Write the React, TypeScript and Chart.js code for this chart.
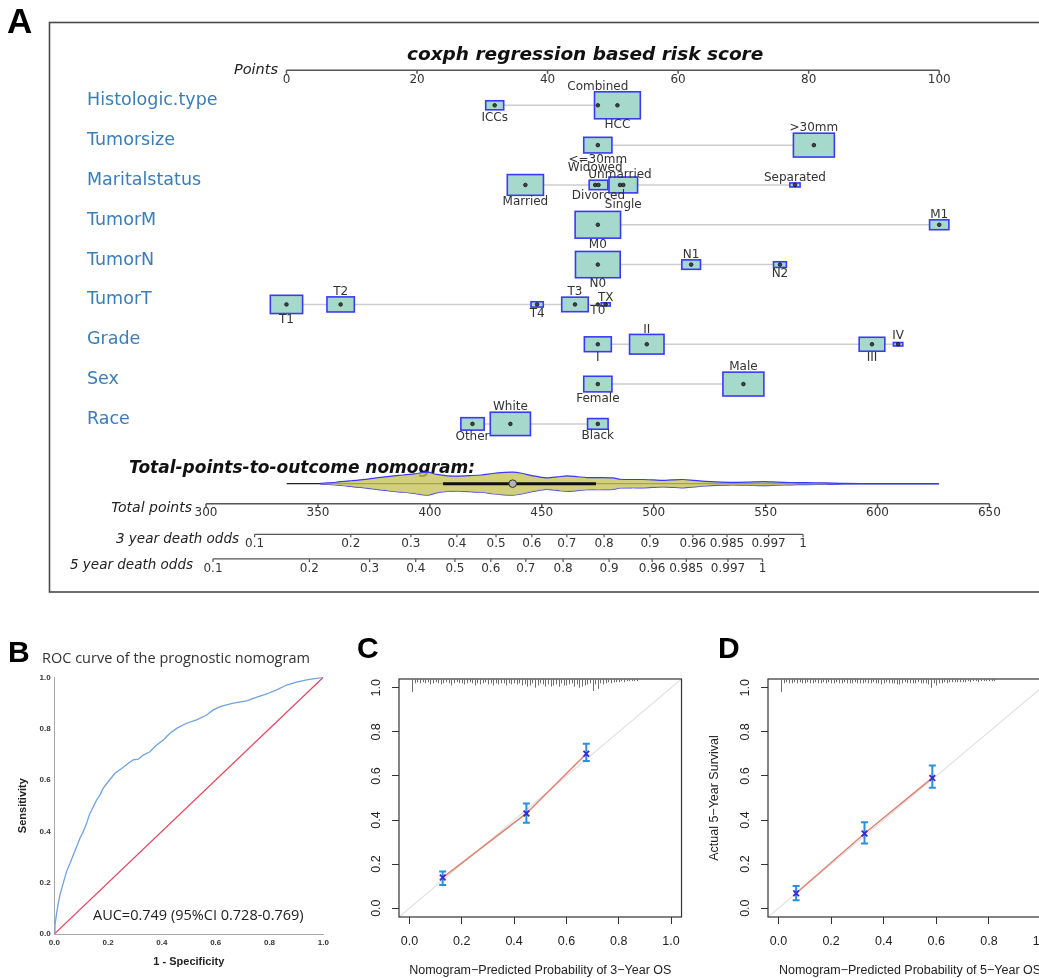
import React, { useEffect, useRef } from "react";
import { Chart, registerables } from "chart.js";

Chart.register(...registerables);

// ================= Panel A : nomogram data =================
const variableNames = ["Histologic.type", "Tumorsize", "Maritalstatus", "TumorM", "TumorN", "TumorT", "Grade", "Sex", "Race"];

const histLevels = ["ICCs", "Combined", "HCC"];
const histPoints = [31.9, 47.7, 50.7];
const histShare = [0.1, 0.004, 0.896];

const sizeLevels = ["<=30mm", ">30mm"];
const sizePoints = [47.7, 80.8];
const sizeShare = [0.3, 0.7];

const maritalLevels = ["Married", "Widowed", "Divorced", "Unmarried", "Single", "Separated"];
const maritalPoints = [36.6, 47.3, 47.8, 51.1, 51.6, 77.9];
const maritalShare = [0.53, 0.01, 0.11, 0.02, 0.31, 0.02];

const mLevels = ["M0", "M1"];
const mPoints = [47.7, 100];
const mShare = [0.88, 0.12];

const nLevels = ["N0", "N1", "N2"];
const nPoints = [47.7, 62.0, 75.6];
const nShare = [0.85, 0.11, 0.04];

const tLevels = ["T1", "T2", "T4", "T3", "T0", "TX"];
const tPoints = [0, 8.3, 38.4, 44.2, 47.7, 48.9];
const tShare = [0.41, 0.28, 0.035, 0.26, 0.002, 0.013];

const gradeLevels = ["I", "II", "III", "IV"];
const gradePoints = [47.7, 55.2, 89.7, 93.7];
const gradeShare = [0.27, 0.475, 0.24, 0.015];

const sexLevels = ["Female", "Male"];
const sexPoints = [47.7, 70.0];
const sexShare = [0.3, 0.7];

const raceLevels = ["Other", "White", "Black"];
const racePoints = [28.5, 34.3, 47.7];
const raceShare = [0.19, 0.67, 0.14];

const pointsTicks = [0, 20, 40, 60, 80, 100];
const totalTicks = [300, 350, 400, 450, 500, 550, 600, 650];
const deathProbTicks = [0.1, 0.2, 0.3, 0.4, 0.5, 0.6, 0.7, 0.8, 0.9, 0.96, 0.985, 0.997, 0.9995];
const deathProbLabels = ["0.1", "0.2", "0.3", "0.4", "0.5", "0.6", "0.7", "0.8", "0.9", "0.96", "0.985", "0.997", "1"];

const totalRange = [336, 627.4];
const totalIqr = [405.9, 474.2];
const totalMedian = 437;
const densityTotal = [351, 358, 365, 371, 377, 383, 388, 393, 399, 403, 408, 413, 418, 423, 428, 432, 437, 441, 446, 452, 457, 461, 466, 470, 476, 482, 485, 490, 495, 500, 504, 508, 513, 518, 523, 528, 535, 542, 549, 555, 561, 568, 577, 585, 600, 627.4];
const densityValue = [0.03, 0.12, 0.25, 0.37, 0.52, 0.66, 0.75, 0.85, 1.0, 0.8, 0.68, 0.66, 0.7, 0.75, 0.88, 0.96, 1.0, 0.9, 0.68, 0.5, 0.58, 0.68, 0.6, 0.53, 0.53, 0.5, 0.38, 0.36, 0.36, 0.32, 0.28, 0.32, 0.36, 0.28, 0.2, 0.15, 0.11, 0.13, 0.17, 0.13, 0.1, 0.08, 0.07, 0.02, 0, 0];

// ================= Panel B : ROC =================
const rocFpr = [0, 0.0025, 0.0087, 0.0149, 0.0211, 0.0335, 0.0458, 0.0582, 0.0706, 0.083, 0.0954, 0.1078, 0.1202, 0.1301, 0.145, 0.1574, 0.1698, 0.1822, 0.2007, 0.2255, 0.2503, 0.2751, 0.2937, 0.3123, 0.3309, 0.3556, 0.3804, 0.4052, 0.43, 0.4548, 0.4919, 0.5291, 0.5663, 0.5911, 0.6159, 0.6654, 0.715, 0.7398, 0.7893, 0.8265, 0.8637, 0.9009, 0.938, 0.9752, 1];
const rocTpr = [0, 0.035, 0.081, 0.12, 0.153, 0.199, 0.244, 0.275, 0.308, 0.34, 0.373, 0.399, 0.431, 0.464, 0.496, 0.522, 0.542, 0.568, 0.594, 0.626, 0.645, 0.665, 0.678, 0.681, 0.697, 0.71, 0.736, 0.756, 0.782, 0.801, 0.821, 0.834, 0.853, 0.873, 0.886, 0.899, 0.908, 0.918, 0.935, 0.951, 0.97, 0.981, 0.99, 0.996, 1];

// ================= Panels C / D : calibration =================
const calTicks = [0, 0.2, 0.4, 0.6, 0.8, 1.0];
const calLimits = [-0.04, 1.04];

const cal3Pred = [0.127, 0.447, 0.676];
const cal3Obs = [0.139, 0.43, 0.701];
const cal3Lo = [0.105, 0.388, 0.668];
const cal3Hi = [0.166, 0.475, 0.746];

const cal5Pred = [0.067, 0.327, 0.585];
const cal5Obs = [0.068, 0.339, 0.591];
const cal5Lo = [0.036, 0.293, 0.546];
const cal5Hi = [0.101, 0.39, 0.648];

const rug3X = [0.01, 0.02, 0.03, 0.04, 0.05, 0.06, 0.07, 0.08, 0.09, 0.1, 0.11, 0.12, 0.13, 0.14, 0.15, 0.16, 0.17, 0.18, 0.19, 0.2, 0.21, 0.22, 0.23, 0.24, 0.25, 0.26, 0.27, 0.28, 0.29, 0.3, 0.31, 0.32, 0.33, 0.34, 0.35, 0.36, 0.37, 0.38, 0.39, 0.4, 0.41, 0.42, 0.43, 0.44, 0.45, 0.46, 0.47, 0.48, 0.49, 0.5, 0.51, 0.52, 0.53, 0.54, 0.55, 0.56, 0.57, 0.58, 0.59, 0.6, 0.61, 0.62, 0.63, 0.64, 0.65, 0.66, 0.67, 0.68, 0.69, 0.7, 0.71, 0.72, 0.73, 0.74, 0.75, 0.76, 0.77, 0.78, 0.79, 0.8, 0.81, 0.82, 0.83, 0.84, 0.85, 0.86, 0.87];
const rug3Count = [11, 3, 2, 3, 2, 3, 2, 4, 3, 2, 3, 4, 3, 2, 3, 5, 3, 2, 3, 3, 4, 3, 2, 3, 5, 3, 4, 3, 2, 4, 3, 5, 3, 4, 3, 3, 5, 3, 4, 3, 4, 3, 5, 4, 6, 5, 3, 7, 5, 3, 4, 6, 4, 6, 5, 4, 6, 3, 5, 5, 4, 3, 6, 4, 7, 6, 5, 4, 3, 10, 4, 8, 3, 4, 3, 2, 3, 2, 2, 2, 1, 2, 1, 1, 1, 1, 1];

const rug5X = [0.01, 0.02, 0.03, 0.04, 0.05, 0.06, 0.07, 0.08, 0.09, 0.1, 0.11, 0.12, 0.13, 0.14, 0.15, 0.16, 0.17, 0.18, 0.19, 0.2, 0.21, 0.22, 0.23, 0.24, 0.25, 0.26, 0.27, 0.28, 0.29, 0.3, 0.31, 0.32, 0.33, 0.34, 0.35, 0.36, 0.37, 0.38, 0.39, 0.4, 0.41, 0.42, 0.43, 0.44, 0.45, 0.46, 0.47, 0.48, 0.49, 0.5, 0.51, 0.52, 0.53, 0.54, 0.55, 0.56, 0.57, 0.58, 0.59, 0.6, 0.61, 0.62, 0.63, 0.64, 0.65, 0.66, 0.67, 0.68, 0.69, 0.7, 0.71, 0.72, 0.73, 0.74, 0.75, 0.76, 0.77, 0.78, 0.79, 0.8, 0.81, 0.82];
const rug5Count = [11, 3, 2, 3, 3, 2, 3, 2, 3, 3, 2, 3, 3, 2, 3, 3, 2, 3, 2, 3, 3, 2, 3, 3, 2, 3, 3, 3, 2, 3, 3, 3, 2, 3, 3, 2, 3, 3, 4, 3, 2, 3, 3, 3, 4, 4, 3, 2, 3, 3, 3, 3, 2, 3, 3, 3, 4, 7, 3, 5, 3, 3, 2, 3, 2, 2, 2, 2, 2, 2, 2, 1, 2, 1, 1, 2, 1, 1, 1, 1, 1, 1];

// ================= layout / style (not data) =================
const levelsByVar = [histLevels, sizeLevels, maritalLevels, mLevels, nLevels, tLevels, gradeLevels, sexLevels, raceLevels];
const pointsByVar = [histPoints, sizePoints, maritalPoints, mPoints, nPoints, tPoints, gradePoints, sexPoints, racePoints];
const shareByVar = [histShare, sizeShare, maritalShare, mShare, nShare, tShare, gradeShare, sexShare, raceShare];

const labelSide: Record<string, number> = {
  ICCs: 1, Combined: -1, HCC: 1, "<=30mm": 1, ">30mm": -1,
  Married: 1, Widowed: -1, Divorced: 1, Unmarried: -1, Single: 1, Separated: -1,
  M0: 1, M1: -1, N0: 1, N1: -1, N2: 1,
  T1: 1, T2: -1, T4: 1, T3: -1, T0: 1, TX: -1,
  I: 1, II: -1, III: 1, IV: -1, Female: 1, Male: -1, Other: 1, White: -1, Black: 1,
};
const labelNudge: Record<string, number> = { Combined: -13, Widowed: -11, Unmarried: -3, Single: 5, ICCs: 2, IV: -2 };

const FONT_DV = '"DejaVu Sans", "Liberation Sans", sans-serif';
const FONT_AR = '"Liberation Sans", Arial, sans-serif';
const A_W = 1039;
const A_H = 600;

const cll = (p: number) => Math.log(-Math.log(1 - p));

function spanFor(v0: number, px0: number, v1: number, px1: number, size: number) {
  const k = (v1 - v0) / (px1 - px0);
  return { min: v0 - px0 * k, max: v0 + (size - px0) * k };
}

function boxDims(share: number) {
  const h = 28.5 * Math.sqrt(share);
  return { h, w: 1.55 * h + 4 };
}

function drawScaleAxis(ctx: CanvasRenderingContext2D, scale: any, yPx: number, values: number[], labels: string[], tickLen: number, labelDy: number, lineWidth: number) {
  const xs = values.map((v) => scale.getPixelForValue(v));
  ctx.strokeStyle = "#555";
  ctx.lineWidth = lineWidth;
  ctx.beginPath();
  ctx.moveTo(xs[0], yPx);
  ctx.lineTo(xs[xs.length - 1], yPx);
  xs.forEach((px) => {
    ctx.moveTo(px, yPx);
    ctx.lineTo(px, yPx + tickLen);
  });
  ctx.stroke();
  ctx.fillStyle = "#333";
  ctx.font = `12px ${FONT_DV}`;
  ctx.textAlign = "center";
  ctx.textBaseline = "middle";
  xs.forEach((px, i) => ctx.fillText(labels[i], px, yPx + labelDy));
}

function buildNomogram(canvas: HTMLCanvasElement) {
  const violinRow = 9.5;
  const violinHalf = 11.7 / 40.5;
  const datasets: any[] = [];
  datasets.push({
    type: "line", xAxisID: "xt", yAxisID: "y", order: 9,
    data: [{ x: totalRange[0], y: violinRow }, { x: totalRange[1], y: violinRow }],
    borderColor: "#222", borderWidth: 1.3, pointRadius: 0,
  });
  datasets.push({
    type: "line", xAxisID: "xt", yAxisID: "y", order: 8,
    data: densityTotal.map((t, k) => ({ x: t, y: violinRow - densityValue[k] * violinHalf })),
    borderColor: "#3838ff", borderWidth: 1.2, pointRadius: 0, tension: 0.25,
    fill: "+1", backgroundColor: "rgba(200,196,90,0.8)",
  });
  datasets.push({
    type: "line", xAxisID: "xt", yAxisID: "y", order: 8,
    data: densityTotal.map((t, k) => ({ x: t, y: violinRow + densityValue[k] * violinHalf })),
    borderColor: "#3838ff", borderWidth: 1.2, pointRadius: 0, tension: 0.25, fill: false,
  });
  datasets.push({
    type: "line", xAxisID: "xt", yAxisID: "y", order: 7,
    data: [{ x: totalIqr[0], y: violinRow }, { x: totalIqr[1], y: violinRow }],
    borderColor: "#111", borderWidth: 3, pointRadius: 0,
  });
  datasets.push({
    type: "scatter", xAxisID: "xt", yAxisID: "y", order: 6,
    data: [{ x: totalMedian, y: violinRow }],
    pointRadius: 3.8, backgroundColor: "#b4b4b4", borderColor: "#333", borderWidth: 1,
  });
  pointsByVar.forEach((pts, i) => {
    datasets.push({
      type: "line", xAxisID: "x", yAxisID: "y", order: 5,
      data: [{ x: Math.min(...pts), y: i }, { x: Math.max(...pts), y: i }],
      borderColor: "#cdcdcd", borderWidth: 1.5, pointRadius: 0,
    });
  });
  const dotsIndex = datasets.length;
  datasets.push({
    type: "scatter", xAxisID: "x", yAxisID: "y", order: 1,
    data: pointsByVar.flatMap((pts, i) => pts.map((p) => ({ x: p, y: i }))),
    pointRadius: 1.8, backgroundColor: "#444", borderColor: "#111", borderWidth: 0.8,
  });

  const plugin = {
    id: "nomogram",
    beforeDatasetsDraw(chart: any) {
      const { ctx, scales } = chart;
      const { x, xt, x3, x5, y } = scales;
      ctx.save();
      ctx.fillStyle = "#000";
      ctx.font = `bold 35px ${FONT_AR}`;
      ctx.textAlign = "left";
      ctx.textBaseline = "alphabetic";
      ctx.fillText("A", 7, 33.3);

      ctx.strokeStyle = "#4a4a4a";
      ctx.lineWidth = 1.6;
      ctx.strokeRect(49.5, 22.5, 1200, 569.5);

      ctx.fillStyle = "#111";
      ctx.font = `italic bold 18.5px ${FONT_DV}`;
      ctx.fillText("coxph regression based risk score", 407, 59.5);
      ctx.font = `italic bold 17px ${FONT_DV}`;
      ctx.fillText("Total-points-to-outcome nomogram:", 129, 473.3);

      ctx.textAlign = "right";
      ctx.fillStyle = "#222";
      ctx.font = `italic 14.5px ${FONT_DV}`;
      ctx.fillText("Points", 278, 74);
      ctx.font = `italic 14px ${FONT_DV}`;
      ctx.fillText("Total points", 192, 511.5);
      ctx.font = `italic 13.5px ${FONT_DV}`;
      ctx.fillText("3 year death odds", 239, 543);
      ctx.fillText("5 year death odds", 193, 569);

      drawScaleAxis(ctx, x, y.getPixelForValue(-0.877), pointsTicks, pointsTicks.map(String), 3.5, 9.5, 1.5);
      drawScaleAxis(ctx, xt, y.getPixelForValue(10.007), totalTicks, totalTicks.map(String), 3.5, 8.8, 1.5);
      const probCll = deathProbTicks.map(cll);
      drawScaleAxis(ctx, x3, y.getPixelForValue(10.773), probCll, deathProbLabels, 3, 10, 1.2);
      drawScaleAxis(ctx, x5, y.getPixelForValue(11.39), probCll, deathProbLabels, 3, 10, 1.2);
      ctx.restore();
    },
    beforeDatasetDraw(chart: any, args: any) {
      if (args.index !== dotsIndex) return;
      const { ctx, scales: { x, y } } = chart;
      ctx.save();
      ctx.fillStyle = "#a5d9cc";
      ctx.strokeStyle = "#3a3af5";
      ctx.lineWidth = 1.6;
      pointsByVar.forEach((pts, i) => {
        const py = y.getPixelForValue(i);
        pts.forEach((p, j) => {
          const { h, w } = boxDims(shareByVar[i][j]);
          if (h < 2) return;
          const px = x.getPixelForValue(p);
          ctx.fillRect(px - w / 2, py - h / 2, w, h);
          ctx.strokeRect(px - w / 2, py - h / 2, w, h);
        });
      });
      ctx.restore();
    },
    afterDatasetsDraw(chart: any) {
      const { ctx, scales: { x, y } } = chart;
      ctx.save();
      ctx.font = `12px ${FONT_DV}`;
      ctx.fillStyle = "#333";
      ctx.textAlign = "center";
      ctx.textBaseline = "middle";
      levelsByVar.forEach((levels, i) => {
        const py = y.getPixelForValue(i);
        levels.forEach((lab, j) => {
          const px = x.getPixelForValue(pointsByVar[i][j]);
          const { h } = boxDims(shareByVar[i][j]);
          const hh = h >= 2 ? h / 2 : 0;
          const side = labelSide[lab] ?? 1;
          const cy = side > 0 ? py + hh + 6.5 : py - hh - 5;
          ctx.fillText(lab, px, cy + (labelNudge[lab] || 0));
        });
      });
      ctx.font = `17.5px ${FONT_DV}`;
      ctx.fillStyle = "#3a7db8";
      ctx.textAlign = "left";
      ctx.textBaseline = "alphabetic";
      variableNames.forEach((name, i) => ctx.fillText(name, 87, y.getPixelForValue(i)));
      ctx.restore();
    },
  };

  return new Chart(canvas, {
    type: "scatter",
    data: { datasets },
    options: {
      animation: false,
      responsive: false,
      events: [],
      layout: { padding: 0 },
      plugins: { legend: { display: false }, tooltip: { enabled: false } },
      scales: {
        x: { type: "linear", axis: "x", display: false, ...spanFor(0, 284.2, 100, 943.3, A_W) },
        xt: { type: "linear", axis: "x", display: false, ...spanFor(300, 203, 650, 994, A_W) },
        x3: { type: "linear", axis: "x", display: false, ...spanFor(cll(0.1), 252, cll(0.997), 771, A_W) },
        x5: { type: "linear", axis: "x", display: false, ...spanFor(cll(0.1), 210, cll(0.997), 730, A_W) },
        y: { type: "linear", axis: "y", display: false, reverse: true, ...spanFor(0, 102, 1, 142.5, A_H) },
      },
    } as any,
    plugins: [plugin as any],
  });
}

function buildRoc(canvas: HTMLCanvasElement) {
  const textPlugin = {
    id: "rocText",
    afterDraw(chart: any) {
      const ctx = chart.ctx;
      ctx.save();
      ctx.textAlign = "left";
      ctx.textBaseline = "alphabetic";
      ctx.fillStyle = "#000";
      ctx.font = `bold 30px ${FONT_AR}`;
      ctx.fillText("B", 8, 31.7);
      ctx.fillStyle = "#333";
      ctx.font = '14.5px "Open Sans", sans-serif';
      ctx.fillText("ROC curve of the prognostic nomogram", 42, 33.3);
      ctx.fillStyle = "#222";
      ctx.fillText("AUC=0.749 (95%CI 0.728-0.769)", 93, 290);
      ctx.restore();
    },
  };
  const tickFont = { family: FONT_AR, size: 8, weight: "bold" as const };
  const titleFont = { family: FONT_AR, size: 11, weight: "bold" as const };
  return new Chart(canvas, {
    type: "line",
    data: {
      datasets: [
        { data: rocFpr.map((v, i) => ({ x: v, y: rocTpr[i] })), borderColor: "#6fa2e2", borderWidth: 1.3, pointRadius: 0 },
        { data: [{ x: 0, y: 0 }, { x: 1, y: 1 }], borderColor: "#e4465e", borderWidth: 1.3, pointRadius: 0 },
      ],
    },
    options: {
      animation: false,
      responsive: false,
      events: [],
      layout: { padding: { top: 47.3, right: 11.7, left: 0, bottom: 0 } },
      plugins: { legend: { display: false }, tooltip: { enabled: false } },
      scales: {
        x: {
          type: "linear", min: 0, max: 1,
          ticks: { stepSize: 0.2, callback: (v: any) => Number(v).toFixed(1), font: tickFont, color: "#333", padding: 4, maxRotation: 0 },
          grid: { display: false, drawTicks: false },
          border: { display: true, color: "#a8a8a8", width: 1 },
          title: { display: true, text: "1 - Specificity", font: titleFont, color: "#222", padding: { top: 0, bottom: 9 } },
          afterFit: (s: any) => { s.height = 44; },
        },
        y: {
          type: "linear", min: 0, max: 1,
          ticks: { stepSize: 0.2, callback: (v: any) => Number(v).toFixed(1), font: tickFont, color: "#333", padding: 3.6 },
          grid: { display: false, drawTicks: false },
          border: { display: true, color: "#a8a8a8", width: 1 },
          title: { display: true, text: "Sensitivity", font: titleFont, color: "#222", padding: { top: 16.7, bottom: 0 } },
          afterFit: (s: any) => { s.width = 54.3; },
        },
      },
    } as any,
    plugins: [textPlugin as any],
  });
}

interface CalCfg {
  pred: number[]; obs: number[]; lo: number[]; hi: number[];
  rugX: number[]; rugCount: number[];
  xTitle: string; yTitle: string; letter: string; letterX: number;
  yAxisWidth: number; padRight: number; yTitlePad: number;
}

function buildCalibration(canvas: HTMLCanvasElement, cfg: CalCfg) {
  const markerIndex = 2;
  const plugin = {
    id: "calib",
    beforeDatasetDraw(chart: any, args: any) {
      if (args.index !== markerIndex) return;
      const { ctx, scales: { x, y } } = chart;
      ctx.save();
      ctx.strokeStyle = "#2a90dc";
      ctx.lineWidth = 2;
      cfg.pred.forEach((p, i) => {
        const px = x.getPixelForValue(p);
        const y1 = y.getPixelForValue(cfg.lo[i]);
        const y2 = y.getPixelForValue(cfg.hi[i]);
        ctx.beginPath();
        ctx.moveTo(px, y1); ctx.lineTo(px, y2);
        ctx.moveTo(px - 3.5, y1); ctx.lineTo(px + 3.5, y1);
        ctx.moveTo(px - 3.5, y2); ctx.lineTo(px + 3.5, y2);
        ctx.stroke();
      });
      ctx.restore();
    },
    afterDraw(chart: any) {
      const { ctx, chartArea: a, scales: { x, y } } = chart;
      ctx.save();
      ctx.strokeStyle = "#333";
      ctx.lineWidth = 1.2;
      ctx.strokeRect(a.left, a.top, a.right - a.left, a.bottom - a.top);
      ctx.strokeStyle = "#6e6e6e";
      ctx.lineWidth = 1;
      ctx.beginPath();
      cfg.rugX.forEach((v, i) => {
        const px = Math.round(x.getPixelForValue(v)) + 0.5;
        ctx.moveTo(px, a.top);
        ctx.lineTo(px, a.top + 1 + cfg.rugCount[i] * 1.1);
      });
      ctx.stroke();
      ctx.fillStyle = "#222";
      ctx.font = `12.5px ${FONT_AR}`;
      ctx.textAlign = "center";
      ctx.textBaseline = "middle";
      calTicks.forEach((v) => {
        const py = y.getPixelForValue(v);
        ctx.save();
        ctx.translate(a.left - 22.5, py);
        ctx.rotate(-Math.PI / 2);
        ctx.fillText(v.toFixed(1), 0, 0);
        ctx.restore();
      });
      ctx.fillStyle = "#000";
      ctx.font = `bold 30px ${FONT_AR}`;
      ctx.textAlign = "left";
      ctx.textBaseline = "alphabetic";
      ctx.fillText(cfg.letter, cfg.letterX, 28.3);
      ctx.restore();
    },
  };
  const axisFont = { family: FONT_AR, size: 12.5 };
  const setTicks = (s: any) => { s.ticks = calTicks.map((v) => ({ value: v })); };
  return new Chart(canvas, {
    type: "scatter",
    data: {
      datasets: [
        { type: "line", order: 4, data: [{ x: calLimits[0], y: calLimits[0] }, { x: calLimits[1], y: calLimits[1] }], borderColor: "#e2e2e2", borderWidth: 1.2, pointRadius: 0 },
        { type: "line", order: 3, data: cfg.pred.map((p, i) => ({ x: p, y: cfg.obs[i] })), borderColor: "#da8573", borderWidth: 1.5, pointRadius: 0 },
        { type: "scatter", order: 1, data: cfg.pred.map((p, i) => ({ x: p, y: cfg.obs[i] })), pointStyle: "crossRot", pointRadius: 4, borderColor: "#3a26d2", borderWidth: 1.8, backgroundColor: "#3a26d2" },
      ],
    },
    options: {
      animation: false,
      responsive: false,
      events: [],
      layout: { padding: { top: 49, right: cfg.padRight, left: 0, bottom: 0 } },
      plugins: { legend: { display: false }, tooltip: { enabled: false } },
      scales: {
        x: {
          type: "linear", min: calLimits[0], max: calLimits[1],
          afterBuildTicks: setTicks,
          ticks: { callback: (v: any) => Number(v).toFixed(1), font: axisFont, color: "#222", padding: 10, maxRotation: 0, minRotation: 0, autoSkip: false },
          grid: { display: true, drawOnChartArea: false, drawTicks: true, tickLength: 7, color: "#333", lineWidth: 1 },
          border: { display: false },
          title: { display: true, text: cfg.xTitle, font: axisFont, color: "#222", padding: { top: 0, bottom: 0 } },
          afterFit: (s: any) => { s.height = 61; },
        },
        y: {
          type: "linear", min: calLimits[0], max: calLimits[1],
          afterBuildTicks: setTicks,
          ticks: { display: false },
          grid: { display: true, drawOnChartArea: false, drawTicks: true, tickLength: 7, color: "#333", lineWidth: 1 },
          border: { display: false },
          title: { display: cfg.yTitle !== "", text: cfg.yTitle, font: axisFont, color: "#222", padding: { top: cfg.yTitlePad, bottom: 0 } },
          afterFit: (s: any) => { s.width = cfg.yAxisWidth; },
        },
      },
    } as any,
    plugins: [plugin as any],
  });
}

export default function App() {
  const aRef = useRef<HTMLCanvasElement>(null);
  const bRef = useRef<HTMLCanvasElement>(null);
  const cRef = useRef<HTMLCanvasElement>(null);
  const dRef = useRef<HTMLCanvasElement>(null);

  useEffect(() => {
    const charts = [
      buildNomogram(aRef.current!),
      buildRoc(bRef.current!),
      buildCalibration(cRef.current!, {
        pred: cal3Pred, obs: cal3Obs, lo: cal3Lo, hi: cal3Hi, rugX: rug3X, rugCount: rug3Count,
        xTitle: "Nomogram\u2212Predicted Probability of 3\u2212Year OS", yTitle: "", letter: "C", letterX: 17,
        yAxisWidth: 59, padRight: 7, yTitlePad: 0,
      }),
      buildCalibration(dRef.current!, {
        pred: cal5Pred, obs: cal5Obs, lo: cal5Lo, hi: cal5Hi, rugX: rug5X, rugCount: rug5Count,
        xTitle: "Nomogram\u2212Predicted Probability of 5\u2212Year OS", yTitle: "Actual 5\u2212Year Survival", letter: "D", letterX: 13,
        yAxisWidth: 63, padRight: 13, yTitlePad: 2.5,
      }),
    ];
    return () => charts.forEach((c) => c.destroy());
  }, []);

  return (
    <div style={{ position: "absolute", left: 0, top: 0, width: 1039, height: 978, overflow: "hidden", background: "#fff" }}>
      <canvas ref={aRef} width={1039} height={600} style={{ position: "absolute", left: 0, top: 0, width: 1039, height: 600 }} />
      <canvas ref={bRef} width={335} height={348} style={{ position: "absolute", left: 0, top: 630, width: 335, height: 348 }} />
      <canvas ref={cRef} width={350} height={348} style={{ position: "absolute", left: 340, top: 630, width: 350, height: 348 }} />
      <div style={{ position: "absolute", left: 705, top: 630, width: 334, height: 348, overflow: "hidden" }}>
        <canvas ref={dRef} width={360} height={348} style={{ position: "absolute", left: 0, top: 0, width: 360, height: 348 }} />
      </div>
    </div>
  );
}
